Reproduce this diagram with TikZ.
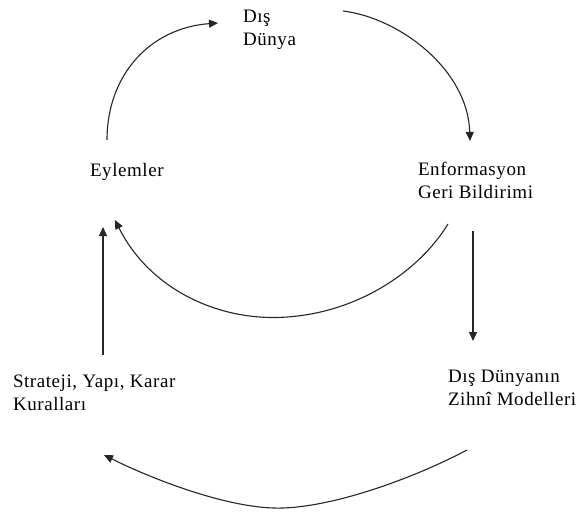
\documentclass[tikz,border=0pt]{standalone}
\usepackage{fontspec}
\setmainfont{Liberation Serif}[LetterSpace=3]
\usetikzlibrary{arrows.meta}
\newcommand{\twoline}[2]{\vtop{\hbox{#1}\hbox{#2}}}
\tikzset{
  lbl/.style={anchor=base west, inner sep=0pt, outer sep=0pt, text=black,
    font=\fontsize{19bp}{23bp}\selectfont},
  conn/.style={draw=black!85, line width=1.1bp,
    -{Triangle[length=9bp,width=8bp]}}
}
\begin{document}
\begin{tikzpicture}[x=1bp,y=-1bp]
\useasboundingbox (0,0) rectangle (583,513);
% labels
\node[lbl] (dunya) at (243,23) {\twoline{Dış}{Dünya}};
\node[lbl] (enf) at (418,176) {\twoline{Enformasyon}{Geri Bildirimi}};
\node[lbl] (eyl) at (90,177) {Eylemler};
\node[lbl] (str) at (13,387) {\twoline{Strateji, Yapı, Karar}{Kuralları}};
\node[lbl] (zih) at (448,382) {\twoline{Dış Dünyanın}{Zihnî Modelleri}};
% connector end points
\coordinate (eylTop) at (107,140);
\coordinate (dunyaL) at (218,23);
\coordinate (dunyaR) at (343,11);
\coordinate (enfTop) at (470,141);
\coordinate (enfBL) at (448,224);
\coordinate (enfBR) at (473,231);
\coordinate (eylBR) at (115,220);
\coordinate (eylBL) at (103,227);
\coordinate (zihTop) at (473,341);
\coordinate (zihB) at (467,450);
\coordinate (strB) at (104,455);
\coordinate (strTop) at (103,355);
\coordinate (midLow) at (287,317);
\coordinate (botLow) at (283,508);
% connectors
\draw[conn] (eylTop) .. controls (107,75) and (150,28) .. (dunyaL);
\draw[conn] (dunyaR) .. controls (400,18) and (468,70) .. (enfTop);
\draw[conn] (enfBR) -- (zihTop);
\draw[conn] (strTop) -- (eylBL);
\draw[conn] (enfBL) .. controls (420,270) and (360,312) .. (midLow)
                    .. controls (220,322) and (150,290) .. (eylBR);
\draw[conn] (zihB) .. controls (420,475) and (340,506) .. (botLow)
                   .. controls (230,510) and (150,478) .. (strB);
\end{tikzpicture}
\end{document}
